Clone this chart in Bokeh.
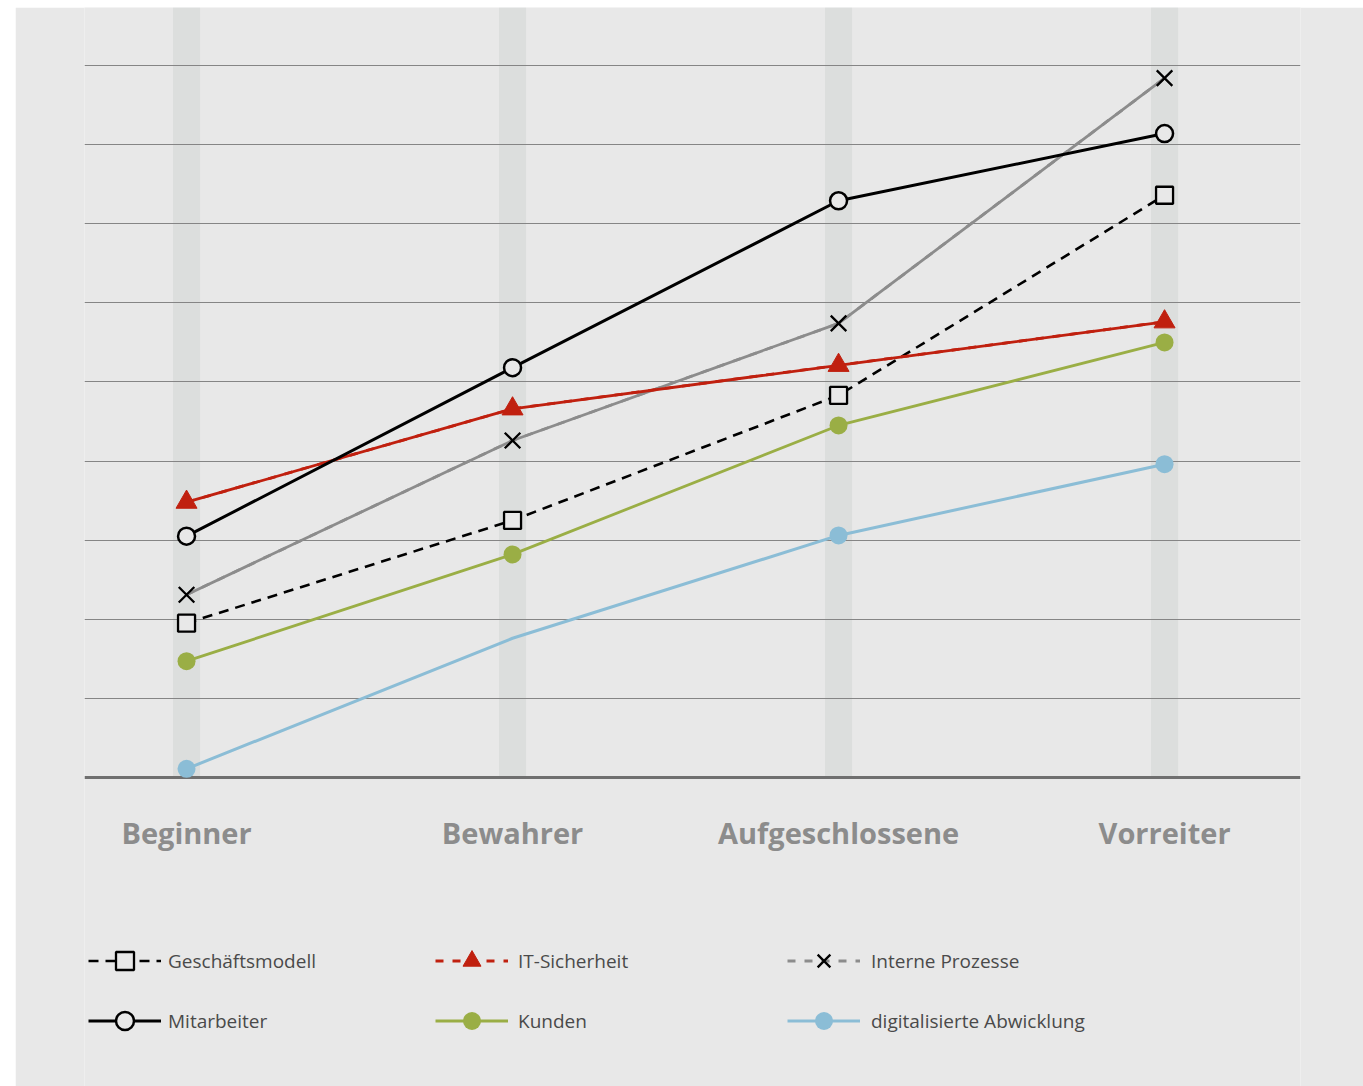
from bokeh.plotting import figure
from bokeh.models import (Range1d, FixedTicker, Legend, LegendItem, CDSView,
                          IndexFilter, Spacer, ColumnDataSource, Span)
from bokeh.core.properties import value
from bokeh.layouts import column, row
from bokeh.embed import file_html
from bokeh.resources import INLINE

# ---------------- data ----------------
categories = ["Beginner", "Bewahrer", "Aufgeschlossene", "Vorreiter"]
cat_pos = [0, 1, 2, 3]
geschaeftsmodell = [1.95, 3.25, 4.83, 7.36]
it_sicherheit = [3.48, 4.66, 5.21, 5.76]
interne_prozesse = [2.31, 4.26, 5.74, 8.84]
mitarbeiter = [3.05, 5.18, 7.29, 8.14]
kunden = [1.47, 2.82, 4.45, 5.50]
digitalisierte_abwicklung = [0.11, 1.76, 3.06, 3.96]
digital_marker_index = [0, 2, 3]
grid_values = [1, 2, 3, 4, 5, 6, 7, 8, 9]
baseline_value = 0

# ---------------- style ----------------
BG = "#e8e8e8"
BAND = "#dcdedd"
RED = "#c0200f"
GREEN = "#9aae45"
BLUE = "#8bbdd6"
GREY = "#8c8c8c"
FONT = "Open Sans"
Y_MAX = 9.733
Y_MIN = -3.906

p = figure(width=1348, height=1079,
           x_range=Range1d(-0.313, 3.417), y_range=Range1d(Y_MIN, Y_MAX),
           min_border_left=69, min_border_right=63, min_border_top=0,
           min_border_bottom=0,
           background_fill_color=BG, border_fill_color=BG,
           outline_line_color=None, output_backend="svg",
           toolbar_location=None)
p.xaxis.visible = False
p.yaxis.visible = False
p.xgrid.visible = False

# vertical bands behind each category
bands = p.vbar(x=cat_pos, width=0.083, bottom=baseline_value, top=Y_MAX,
               fill_color=BAND, line_color=None)
bands.level = "image"

# horizontal grid
p.ygrid.ticker = FixedTicker(ticks=grid_values)
p.ygrid.grid_line_color = "#858585"
p.ygrid.grid_line_width = 1

# baseline
p.add_layout(Span(location=baseline_value, dimension="width",
                  line_color="#6f6f6f", line_width=3, level="underlay"))

# category labels below the baseline
p.text(x=cat_pos, y=[baseline_value] * len(cat_pos), text=categories,
       y_offset=55, text_align="center", text_baseline="middle",
       text_font=value(FONT), text_font_style="bold",
       text_font_size="29px", text_color="#8c8c8c")

# ---------------- series ----------------
ges_l = p.line(cat_pos, geschaeftsmodell, line_color="black", line_width=2.6,
               line_dash="10 7")
ges_s = p.scatter(cat_pos, geschaeftsmodell, marker="square", size=17,
                  fill_color=BG, line_color="black", line_width=2.3)

# dashed styles shown in the legend (hidden under the solid chart lines)
ip_leg = p.line(cat_pos, interne_prozesse, line_color=GREY, line_width=2.8,
                line_dash="8 9")
ip_l = p.line(cat_pos, interne_prozesse, line_color=GREY, line_width=2.8)
ip_s = p.scatter(cat_pos, interne_prozesse, marker="x", size=22,
                 line_color="black", line_width=2.3)

it_leg = p.line(cat_pos, it_sicherheit, line_color=RED, line_width=2.8,
                line_dash="8 9")
it_l = p.line(cat_pos, it_sicherheit, line_color=RED, line_width=2.8)
it_s = p.scatter(cat_pos, it_sicherheit, marker="triangle", size=21,
                 fill_color=RED, line_color=RED)

mit_l = p.line(cat_pos, mitarbeiter, line_color="black", line_width=3)
mit_s = p.scatter(cat_pos, mitarbeiter, marker="circle", size=17,
                  fill_color=BG, line_color="black", line_width=2.5)

kun_l = p.line(cat_pos, kunden, line_color=GREEN, line_width=2.8)
kun_s = p.scatter(cat_pos, kunden, marker="circle", size=18,
                  fill_color=GREEN, line_color=None)

dig_src = ColumnDataSource(dict(x=cat_pos, y=digitalisierte_abwicklung))
dig_l = p.line("x", "y", source=dig_src, line_color=BLUE, line_width=3)
dig_s = p.scatter("x", "y", source=dig_src, marker="circle", size=18,
                  fill_color=BLUE, line_color=None,
                  view=CDSView(filter=IndexFilter(digital_marker_index)))


def make_legend(items, vx, standoff):
    lg = Legend(items=items, location=(vx, 43), orientation="vertical",
                glyph_width=73, glyph_height=45, label_height=45,
                spacing=15, padding=0, margin=0, label_standoff=standoff,
                background_fill_alpha=0, border_line_color=None,
                label_text_font=FONT, label_text_font_size="19px",
                label_text_color="#4a4a4a")
    p.add_layout(lg, "center")


make_legend([LegendItem(label="Geschäftsmodell", renderers=[ges_l, ges_s]),
             LegendItem(label="Mitarbeiter", renderers=[mit_l, mit_s])], 4, 7)
make_legend([LegendItem(label="IT-Sicherheit", renderers=[it_leg, it_s]),
             LegendItem(label="Kunden", renderers=[kun_l, kun_s])], 351, 10)
make_legend([LegendItem(label="Interne Prozesse", renderers=[ip_leg, ip_s]),
             LegendItem(label="digitalisierte Abwicklung",
                        renderers=[dig_l, dig_s])], 703, 11)

layout = column(Spacer(width=1363, height=7),
                row(Spacer(width=15, height=1079), p))

open("out.html", "w").write(file_html(layout, INLINE))
